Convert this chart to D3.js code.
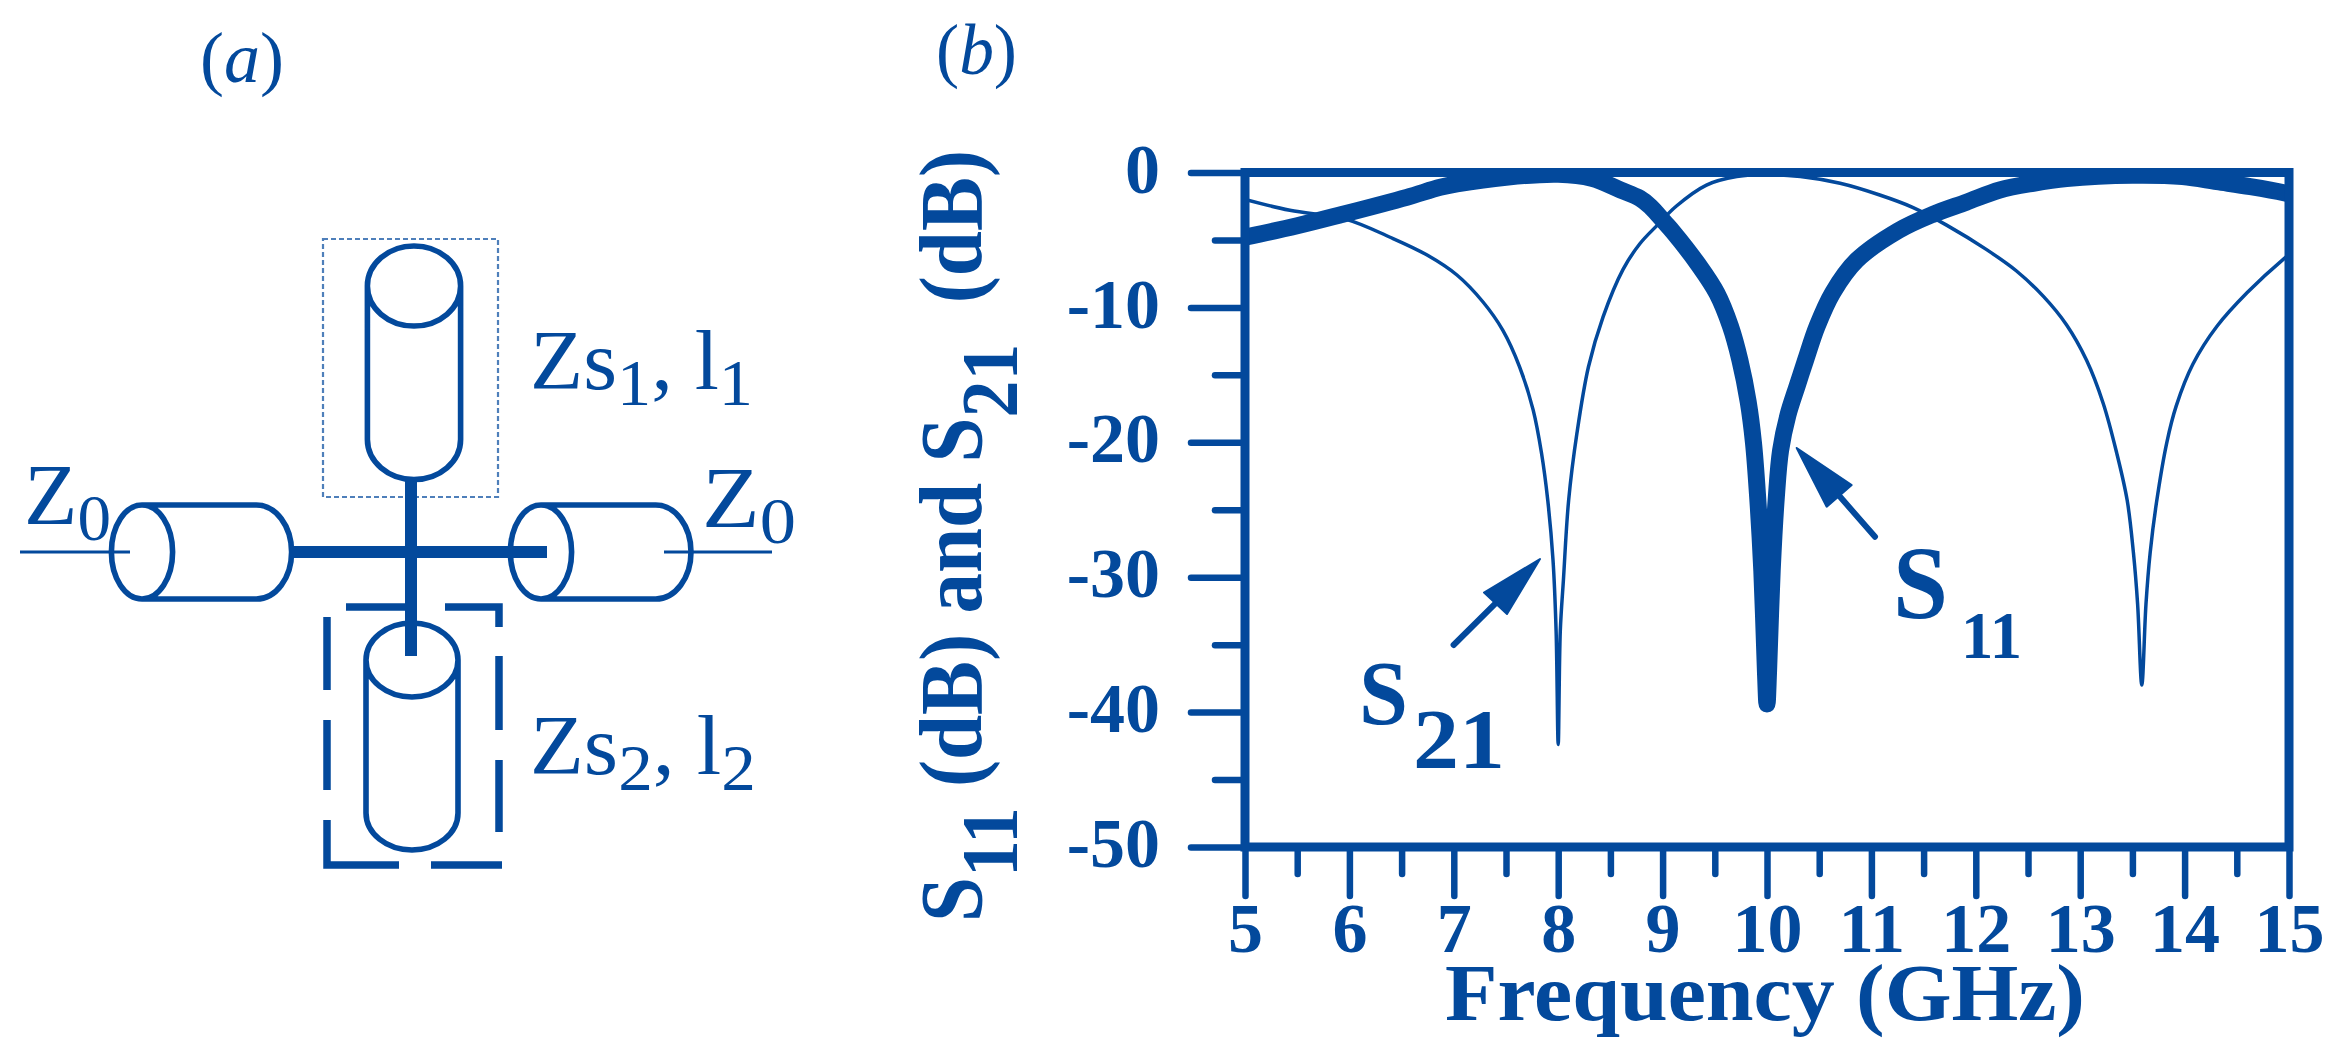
<!DOCTYPE html>
<html><head><meta charset="utf-8">
<script src="https://cdn.jsdelivr.net/npm/d3@7/dist/d3.min.js"></script>
<style>html,body{margin:0;background:#fff}svg{display:block;filter:blur(.6px)}text{font-family:"Liberation Serif",serif;fill:#03499c}</style>
</head><body><svg id="c" width="2344" height="1056"></svg>
<script>
const ink = "#03499c";
const xMajor = [5,6,7,8,9,10,11,12,13,14,15];
const xMinor = [5.5,6.5,7.5,8.5,9.5,10.5,11.5,12.5,13.5,14.5];
const yMajor = [0,-10,-20,-30,-40,-50];
const yMinor = [-5,-15,-25,-35,-45];

const s21Freq = [5,5.43,5.97,6.39,6.74,7.03,7.28,7.47,7.63,7.76,7.84,7.9,7.95,7.98,8,8.02,8.05,8.1,8.18,8.29,8.43,8.62,8.78,8.95,9.13,9.42,9.71,10,10.32,10.7,11.08,11.4,11.72,12.1,12.39,12.65,12.87,13.06,13.22,13.35,13.45,13.51,13.55,13.59,13.63,13.67,13.73,13.83,13.92,14.08,14.31,14.6,14.95,15];
const s21dB   = [-2,-2.8,-3.47,-4.8,-6.1,-7.6,-9.6,-11.7,-14.4,-17.6,-20.8,-24.3,-28.7,-34,-42.4,-34,-30.2,-24.3,-19.3,-14.4,-10.7,-7.2,-5.3,-3.9,-2.5,-.93,-.3,-.15,-.3,-.8,-1.67,-2.6,-3.9,-5.7,-7.3,-9.2,-11.3,-13.9,-17.1,-20.8,-24.3,-28.2,-32,-38,-32,-28.2,-24.5,-20,-17.3,-14.2,-11.4,-8.9,-6.4,-6.1];
const s11Freq = [5,5.5,5.91,6.55,6.87,7.03,7.5,8,8.32,8.6,8.78,8.88,9.02,9.1,9.34,9.52,9.65,9.74,9.82,9.87,9.91,9.95,9.985,10,10.015,10.05,10.09,10.13,10.2,10.29,10.37,10.48,10.63,10.86,11.26,11.59,11.91,12.23,12.55,12.87,13.5,13.98,14.31,14.63,14.95,15];
const s11dB   = [-4.8,-3.95,-3.15,-1.84,-1.1,-.85,-.35,-.13,-.42,-1.3,-1.9,-2.5,-3.7,-4.4,-6.8,-8.95,-11.4,-13.9,-17,-20,-24,-29.5,-37,-39.4,-37,-29.5,-24,-20.6,-18,-15.8,-13.9,-11.4,-8.9,-6.5,-4.3,-3.1,-2.2,-1.3,-.8,-.45,-.2,-.3,-.68,-1.05,-1.5,-1.6];

const svg = d3.select("#c");
const x = d3.scaleLinear().domain([5,15]).range([1245,2289]);
const y = d3.scaleLinear().domain([0,-50]).range([172.5,847]);

svg.append("clipPath").attr("id","plot").append("rect")
  .attr("x",x(5)).attr("y",y(0)-4).attr("width",x(15)-x(5)).attr("height",y(-50)-y(0)+4);

function axis(gen, at, size, vals, pad, fmt){
  const g = svg.append("g").attr("transform", at)
    .call(gen.tickValues(vals).tickSize(size).tickPadding(pad).tickFormat(fmt||""));
  g.select(".domain").remove();
  g.selectAll("line").attr("stroke", ink).attr("stroke-width", 6.5).attr("stroke-linecap","round");
  if(fmt) g.selectAll("text").attr("font-size", 70).attr("font-weight","bold").attr("fill",ink).style("font-family",'"Liberation Serif",serif');
  else g.selectAll("text").remove();
  return g;
}
axis(d3.axisLeft(y), "translate(1245,0)", 54, yMajor, 31, String).selectAll("text").attr("dy",".28em");
axis(d3.axisLeft(y), "translate(1245,0)", 30, yMinor, 0);
axis(d3.axisBottom(x), "translate(0,847)", 49, xMajor, 6, String);
axis(d3.axisBottom(x), "translate(0,847)", 27, xMinor, 0);

const line = d3.line().x(d=>x(d[0])).y(d=>y(d[1])).curve(d3.curveCatmullRom.alpha(0.5));
const curves = svg.append("g").attr("clip-path","url(#plot)");
curves.append("path").attr("d",line(d3.zip(s21Freq,s21dB))).attr("fill","none").attr("stroke",ink).attr("stroke-width",3.5).attr("stroke-linejoin","round");
curves.append("path").attr("d",line(d3.zip(s11Freq,s11dB))).attr("fill","none").attr("stroke",ink).attr("stroke-width",17).attr("stroke-linejoin","round");

svg.append("rect").attr("x",x(5)).attr("y",y(0)).attr("width",x(15)-x(5)).attr("height",y(-50)-y(0))
  .attr("fill","none").attr("stroke",ink).attr("stroke-width",9);

// text helper: each run [text, size, baseline offset, style] is its own text element, stretched together to a measured width
function label(parts, px, py, width, opt={}){
  const items = parts.map(p=>{
    const t = svg.append("text").attr("font-weight",opt.bold?"bold":"normal")
      .attr("font-size",p[1]).attr("font-style",p[3]||"normal").attr("xml:space","preserve").style("white-space","pre").text(p[0]);
    return {t, w:t.node().getComputedTextLength(), off:p[2]||0};
  });
  const k = width/d3.sum(items,d=>d.w);
  let along = 0;
  items.forEach(d=>{
    const tf = opt.rot
      ? `translate(${px+d.off},${py-along}) rotate(-90) scale(${k},1)`
      : `translate(${px+along},${py+d.off}) scale(${k},1)`;
    d.t.attr("transform",tf);
    along += d.w*k;
  });
}
label([["(",72],["a",72,0,"italic"],[")",72]],200,82,84);
label([["(",72],["b",72,0,"italic"],[")",72]],936,74,81);
label([["Frequency (GHz)",80]],1445,1020,640,{bold:true});
label([["S",88],["11",80,36],[" (dB) and S",88],["21",80,36],["  (dB)",88]],981,922,772,{bold:true,rot:true});
label([["S",90]],1359,724,49,{bold:true});
label([["21",84]],1413,768,92,{bold:true});
label([["S",104]],1893,618,55,{bold:true});
label([["11",68]],1961,658,61,{bold:true});
label([["Zs",84],["1",66,16],[", l",84],["1",66,16]],530,389,223);
label([["Zs",84],["2",66,16],[", l",84],["2",66,16]],530,774,226);
label([["Z",86],["0",66,16]],24,524,87);
label([["Z",86],["0",66,16]],702,527,94);

// arrows
[[[1453.6,645],[1540,559],[1484,592.6],[1507,614]],[[1875,536.7],[1796.7,448],[1851.7,485],[1826.7,506.7]]].forEach(a=>{
  const mid=[(a[2][0]+a[3][0])/2,(a[2][1]+a[3][1])/2];
  svg.append("path").attr("d",d3.line()([a[0],mid])).attr("stroke",ink).attr("stroke-width",6).attr("stroke-linecap","round").attr("fill","none");
  svg.append("path").attr("d",d3.line()([a[1],a[2],a[3]])+"Z").attr("fill",ink).attr("stroke",ink).attr("stroke-width",2).attr("stroke-linejoin","round");
});

// panel (a) schematic
const part = (d,w,extra={})=>{const p=svg.append("path").attr("d",d).attr("fill","none").attr("stroke",ink).attr("stroke-width",w).attr("stroke-linecap","butt");
  Object.entries(extra).forEach(([k,v])=>p.attr(k,v));return p;};
part("M323 239H498V497H323Z",2.2,{"stroke-dasharray":"5 3",opacity:.7});
function vCyl(cx,rx,top,ry,bot){
  part(`M${cx-rx} ${top}A${rx} ${ry} 0 1 1 ${cx+rx} ${top}A${rx} ${ry} 0 1 1 ${cx-rx} ${top}V${bot-ry}A${rx} ${ry} 0 0 0 ${cx+rx} ${bot-ry}V${top}`,5.6);
}
function hCyl(cx,rx,cy,ry,end){
  part(`M${cx} ${cy-ry}A${rx} ${ry} 0 1 1 ${cx} ${cy+ry}A${rx} ${ry} 0 1 1 ${cx} ${cy-ry}H${end-ry*.75}A${ry*.75} ${ry} 0 0 1 ${end-ry*.75} ${cy+ry}H${cx}`,5.6);
}
vCyl(414,46.6,286,40,479.5);
vCyl(412,46,660,37,850);
hCyl(142,30.6,552,47,291.6);
hCyl(541,30.6,552,47,691);
part("M411 478V656",12);
part("M293 552H547",12);
part("M20 552H130M664 552H772",3.2);
part("M346 607H406M445 607H499V627M499 656V730M499 760V832M327 617V690M327 720V790M327 820V865H399M431 865H502",7.5);
</script></body></html>
